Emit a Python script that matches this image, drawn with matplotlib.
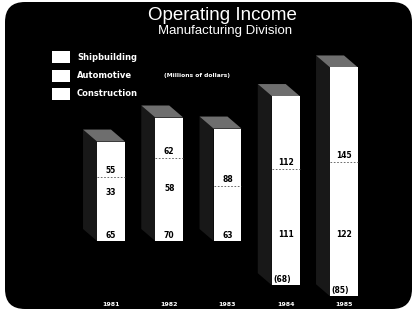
import matplotlib
matplotlib.use("Agg")
import matplotlib.pyplot as plt
from matplotlib.patches import FancyBboxPatch, Polygon, Rectangle
import numpy as np

years = ["1981", "1982", "1983", "1984", "1985"]
construction = [65, 70, 63, -68, -85]
automotive = [33, 58, 22, 111, 122]
shipbuilding = [55, 62, 88, 112, 145]
construction_labels = ["65", "70", "63", "(68)", "(85)"]
automotive_labels = ["33", "58", None, "111", "122"]
shipbuilding_labels = ["55", "62", "88", "112", "145"]
legend_names = ["Shipbuilding", "Automotive", "Construction"]

W, H = 416, 310
fig = plt.figure(figsize=(W / 100, H / 100), dpi=100, facecolor="white")

# background (rounded black panel) in pixel coordinates
bg = fig.add_axes([0, 0, 1, 1])
bg.set_xlim(0, W)
bg.set_ylim(H, 0)
bg.axis("off")
bg.add_patch(FancyBboxPatch((5, 2), 407, 307, boxstyle="round,pad=0,rounding_size=20",
                            facecolor="black", edgecolor="none"))
bg.text(222, 15, "Operating Income", color="white", fontsize=13.5,
        family="Liberation Sans", ha="center", va="center")
bg.text(225, 31, "Manufacturing Division", color="white", fontsize=9.5,
        family="Liberation Sans", ha="center", va="center")
for i, name in enumerate(legend_names):
    yc = 57 + i * 18.5
    bg.add_patch(Rectangle((52, yc - 6), 18, 12, facecolor="white", edgecolor="none"))
    bg.text(77, yc, name, color="white", fontsize=6, fontweight="bold",
            family="DejaVu Sans", ha="left", va="center")
bg.text(197, 76, "(Millions of dollars)", color="white", fontsize=4.3, fontweight="bold",
        family="DejaVu Sans", ha="center", va="center")

# bar axes: 0.65 px per unit, baseline at y=241 px from top
ax = fig.add_axes([0, 4 / H, 1, 260 / H])
ax.set_xlim(-111 / 58.25, (W - 111) / 58.25)
ax.set_ylim(-100, 300)
ax.axis("off")
ax.patch.set_alpha(0)

x = np.arange(len(years))
width = 0.48
dx = -14 / 58.25
dy = 12 / 0.65

con = np.array(construction, float)
aut = np.array(automotive, float)
shp = np.array(shipbuilding, float)
pos_con = np.where(con > 0, con, 0)
neg_con = np.where(con < 0, con, 0)
tops = pos_con + aut + shp
bottoms = neg_con

for i in range(len(years)):
    xl = x[i] - width / 2
    xr = x[i] + width / 2
    # side face
    ax.add_patch(Polygon([(xl, bottoms[i]), (xl, tops[i]), (xl + dx, tops[i] + dy),
                          (xl + dx, bottoms[i] + dy)], closed=True,
                         facecolor="#181818", edgecolor="none", zorder=1))
    # top face
    ax.add_patch(Polygon([(xl, tops[i]), (xr, tops[i]), (xr + dx, tops[i] + dy),
                          (xl + dx, tops[i] + dy)], closed=True,
                         facecolor="#6e6e6e", edgecolor="none", zorder=1))

ax.bar(x, con, width=width, color="white", edgecolor="none", zorder=2)
ax.bar(x, aut, width=width, bottom=pos_con, color="white", edgecolor="none", zorder=2)
ax.bar(x, shp, width=width, bottom=pos_con + aut, color="white", edgecolor="none", zorder=2)

for i in range(len(years)):
    yb = pos_con[i] + aut[i]
    ax.plot([x[i] - width / 2, x[i] + width / 2], [yb, yb], color="#555555",
            lw=0.6, ls=(0, (2, 2)), zorder=3)

kw = dict(fontsize=5.5, fontweight="bold", color="black", family="DejaVu Sans", zorder=4,
          textcoords="offset points", va="bottom")
for i in range(len(years)):
    if con[i] >= 0:
        ax.annotate(construction_labels[i], (x[i], 0), xytext=(0, 1), ha="center", **kw)
    else:
        ax.annotate(construction_labels[i], (x[i] - width / 2, con[i]), xytext=(1, 1),
                    ha="left", **kw)
    if automotive_labels[i]:
        ax.annotate(automotive_labels[i], (x[i], pos_con[i]), xytext=(0, 1.5),
                    ha="center", **kw)
    if shipbuilding_labels[i]:
        ax.annotate(shipbuilding_labels[i], (x[i], pos_con[i] + aut[i]), xytext=(0, 1.5),
                    ha="center", **kw)
    ax.annotate(years[i], (x[i], -100), xytext=(0, 1.2), ha="center", va="center",
                textcoords="offset points", fontsize=4.5, fontweight="bold",
                color="white", family="DejaVu Sans")

fig.savefig("out.png", dpi=100, facecolor="white")
